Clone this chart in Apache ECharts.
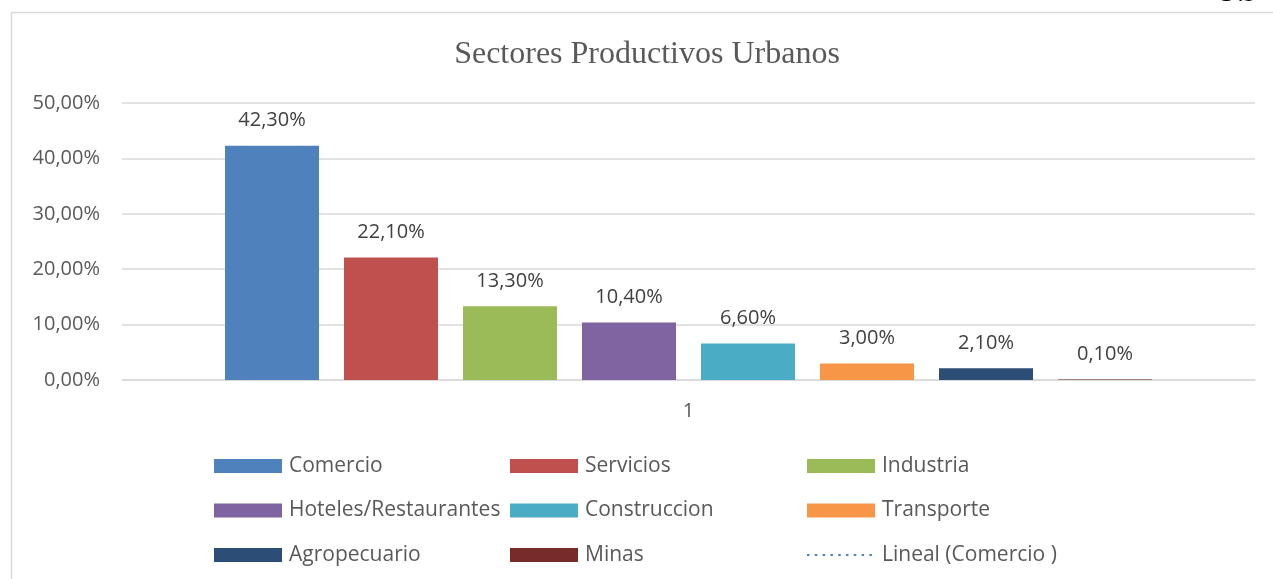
<!DOCTYPE html>
<html>
<head>
<meta charset="utf-8">
<script src="https://cdn.jsdelivr.net/npm/echarts@6/dist/echarts.min.js"></script>
<style>
html,body{margin:0;padding:0;background:#fff;}
#chart{width:1273px;height:579px;}
</style>
</head>
<body>
<div id="chart"></div>
<script>
const categories = ['1'];
const sectorNames = ['Comercio','Servicios','Industria','Hoteles/Restaurantes','Construccion','Transporte','Agropecuario','Minas'];
const sectorValues = [42.3, 22.1, 13.3, 10.4, 6.6, 3.0, 2.1, 0.1];
const sectorColors = ['#4f81bd','#c0504d','#9bbb59','#8064a2','#4bacc6','#f79646','#2c4d75','#772c2a'];
const trendName = 'Lineal (Comercio )';
const yTicks = [0, 10, 20, 30, 40, 50];

const fmt = v => Number(v).toFixed(2).replace('.', ',') + '%';

const series = sectorNames.map((n, i) => ({
  name: n,
  type: 'bar',
  data: [sectorValues[i]],
  barWidth: 94,
  barGap: '26.6%',
  itemStyle: { color: sectorColors[i] },
  label: {
    show: true, position: 'top', distance: 15,
    formatter: p => fmt(p.value),
    fontFamily: 'Open Sans', fontSize: 20, color: '#404040'
  }
}));
series.push({
  name: trendName, type: 'line', data: [sectorValues[0]],
  symbol: 'none', showSymbol: false,
  lineStyle: { type: [2.5, 5.3], width: 2.5, color: '#4f81bd' },
  itemStyle: { color: '#4f81bd' }
});

const legendText = { fontFamily: 'Open Sans', fontSize: 21, lineHeight: 22, color: '#595959', padding: [0,0,0,2] };
const cols = [[0,3,6],[1,4,7],[2,5,8]];
const allNames = sectorNames.concat([trendName]);
const colLeft = [214, 510, 806];
const legends = cols.map((c, k) => ({
  orient: 'vertical', left: colLeft[k], top: 455,
  itemWidth: 68, itemHeight: 14, itemGap: 22.5,
  padding: 0, icon: 'rect',
  data: c.map(i => (i === 8
    ? { name: allNames[i], icon: 'inherit', itemStyle: { opacity: 0 } }
    : { name: allNames[i] })),
  textStyle: legendText,
  selectedMode: false
}));

const chart = echarts.init(document.getElementById('chart'));
chart.setOption({
  animation: false,
  backgroundColor: '#fff',
  title: {
    text: 'Sectores Productivos Urbanos', left: 642, textAlign: 'center', top: 34,
    textStyle: { fontFamily: 'Liberation Serif', fontSize: 32, fontWeight: 'normal', color: '#595959' }
  },
  graphic: [
    { type: 'rect', shape: { x: 11.5, y: 12.5, width: 1400, height: 700 }, style: { fill: 'none', stroke: '#d9d9d9', lineWidth: 1.5 }, z: -1 },
    { type: 'text', x: 1220, y: -17, style: { text: '149', font: '24px "Liberation Serif"', fill: '#000' } }
  ],
  legend: legends,
  grid: { left: 122, right: 18, top: 103, bottom: 199, containLabel: false },
  xAxis: {
    type: 'category', data: categories,
    axisLine: { show: true, lineStyle: { color: '#d9d9d9', width: 1.5 } },
    axisTick: { show: false },
    axisLabel: { fontFamily: 'Open Sans', fontSize: 20, color: '#595959', margin: 21 }
  },
  yAxis: {
    type: 'value', min: yTicks[0], max: yTicks[yTicks.length - 1], interval: 10,
    axisLine: { show: false }, axisTick: { show: false },
    splitLine: { lineStyle: { color: '#d9d9d9', width: 1.5 } },
    axisLabel: { formatter: v => fmt(v), fontFamily: 'Open Sans', fontSize: 20, color: '#595959', margin: 22 }
  },
  series: series
});
</script>
</body>
</html>
